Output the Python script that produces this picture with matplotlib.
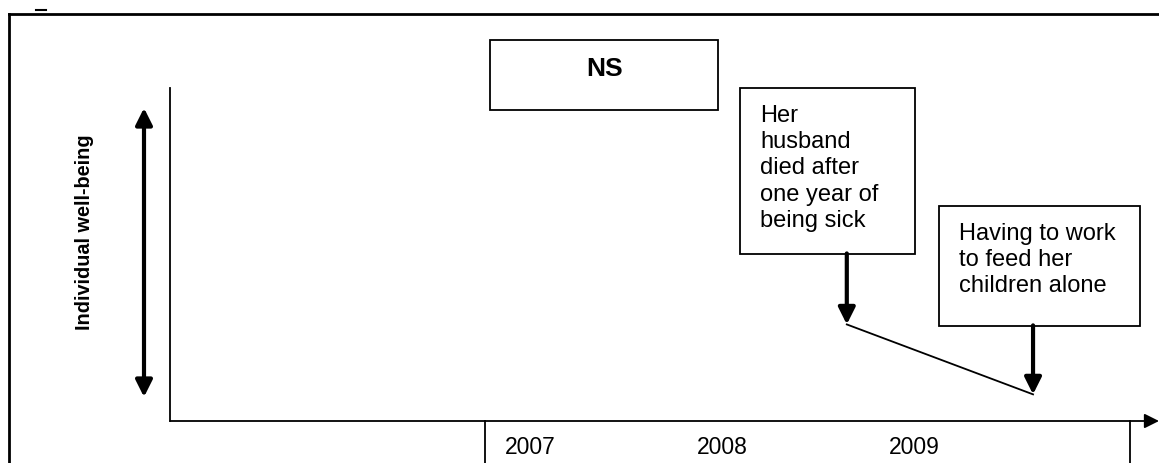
import matplotlib.pyplot as plt
from matplotlib.patches import Rectangle

plt.rcParams['font.family'] = ['Liberation Sans', 'DejaVu Sans']

# timeline data
years = [2007, 2008, 2009]
year_labels = ['2007', '2008', '2009']
event_years = [2008.65, 2009.62]
event_wellbeing = [0.29, 0.08]
event_texts = ['Her\nhusband\ndied after\none year of\nbeing sick',
               'Having to work\nto feed her\nchildren alone']
period_label = 'NS'
ylabel = 'Individual well-being'

W, H = 1159, 463
fig = plt.figure(figsize=(W / 100, H / 100), dpi=100)

# background axes in pixel coordinates (top-left origin) for the frame and boxes
bg = fig.add_axes([0, 0, 1, 1])
bg.set_xlim(0, W)
bg.set_ylim(H, 0)
bg.axis('off')

# outer frame
bg.plot([9, W], [14, 14], color='black', lw=2)
bg.plot([9, 9], [14, H], color='black', lw=2)
bg.plot([36, 46], [10, 10], color='black', lw=1.5)

# year table lines
bg.plot([485, 485], [421, H], color='black', lw=1.3)
bg.plot([1130, 1130], [421, H], color='black', lw=1.3)

# x axis with arrow
bg.annotate('', xy=(W, 421), xytext=(170, 421),
            arrowprops=dict(arrowstyle='-|>', color='black', lw=1.3, mutation_scale=22,
                            shrinkA=0, shrinkB=0))

# double arrow for well-being
bg.annotate('', xy=(144, 108), xytext=(144, 397),
            arrowprops=dict(arrowstyle='<|-|>', color='black', lw=3, mutation_scale=25,
                            shrinkA=0, shrinkB=0))
bg.text(84, 232, ylabel, rotation=90, ha='center', va='center',
        fontsize=14.3, fontweight='bold')

# NS box
bg.add_patch(Rectangle((490, 40), 228, 70, fill=False, ec='black', lw=1.3))
bg.text(605, 69, period_label, ha='center', va='center', fontsize=19, fontweight='bold')

# event boxes
boxes = [(740, 88, 175, 166), (939, 206, 201, 120)]
for (bx, by, bw, bh), txt in zip(boxes, event_texts):
    bg.add_patch(Rectangle((bx, by), bw, bh, fill=False, ec='black', lw=1.3))
    bg.text(bx + 20, by + 17, txt, ha='left', va='top', fontsize=17, linespacing=1.25)

# data axes: years vs well-being
ax = fig.add_axes([170 / W, (H - 421) / H, (W - 170) / W, (421 - 88) / H])
ax.set_xlim(2007 - 360 / 192, 2007 + 629 / 192)
ax.set_ylim(0, 1)
ax.patch.set_alpha(0)
for s in ['top', 'right', 'bottom']:
    ax.spines[s].set_visible(False)
ax.spines['left'].set_linewidth(1.3)
ax.set_yticks([])
ax.set_xticks(years)
ax.set_xticklabels(year_labels, fontsize=16.5)
ax.tick_params(axis='x', length=0, pad=11)

ax.plot(event_years, event_wellbeing, color='black', lw=1.3)
offsets = [71, 69]
for x, y, off in zip(event_years, event_wellbeing, offsets):
    ax.annotate('', xy=(x, y), xytext=(0, off), textcoords='offset pixels',
                arrowprops=dict(arrowstyle='-|>', color='black', lw=3, mutation_scale=25,
                                shrinkA=0, shrinkB=0))

fig.savefig('out.png', dpi=100)
